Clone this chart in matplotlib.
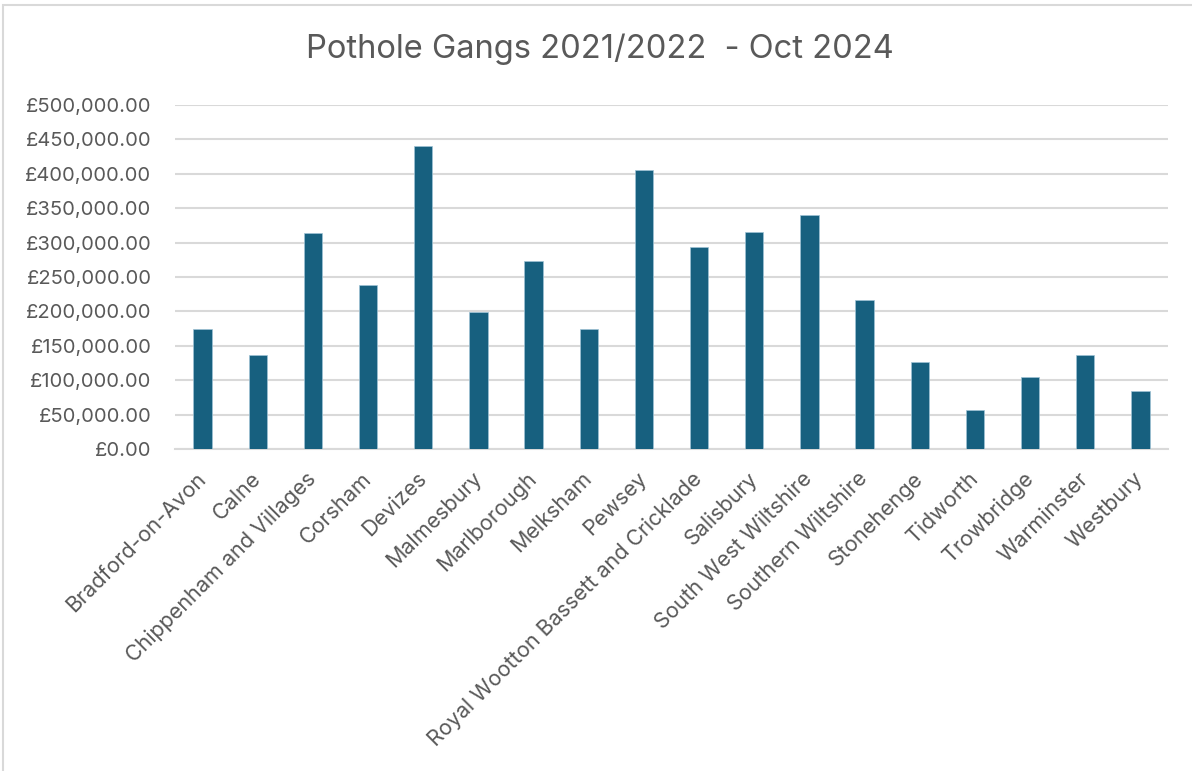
import matplotlib
matplotlib.use("Agg")
import matplotlib.pyplot as plt
from matplotlib.ticker import FuncFormatter, MultipleLocator
from matplotlib.patches import Rectangle

categories = ["Bradford-on-Avon", "Calne", "Chippenham and Villages", "Corsham",
              "Devizes", "Malmesbury", "Marlborough", "Melksham", "Pewsey",
              "Royal Wootton Bassett and Cricklade", "Salisbury",
              "South West Wiltshire", "Southern Wiltshire", "Stonehenge",
              "Tidworth", "Trowbridge", "Warminster", "Westbury"]
values = [175000, 137000, 314000, 238000, 440000, 199000, 273000, 175000, 405000,
          294000, 316000, 340000, 217000, 127000, 56000, 104000, 137000, 84000]
title = "Pothole Gangs 2021/2022  - Oct 2024"

plt.rcParams['font.family'] = ['Inter', 'DejaVu Sans']
txt = '#595959'
grid = '#D9D9D9'

fig = plt.figure(figsize=(11.92, 7.71), dpi=100)
fig.patches.append(Rectangle((3/1192, -0.1), 1.2, 1 - 5/771 + 0.1, transform=fig.transFigure,
                             fill=False, edgecolor='#D9D9D9', linewidth=1.5))
ax = fig.add_axes([175/1192, 1 - 449/771, (1168 - 175)/1192, (449 - 105)/771])

x = list(range(len(categories)))
ax.bar(x, values, width=0.33, color='#17607F', edgecolor='#9FC3D6', linewidth=0.5, zorder=3)
ax.set_xlim(-0.5, len(categories) - 0.5)
ax.set_ylim(0, 500000)
ax.yaxis.set_major_locator(MultipleLocator(50000))
ax.yaxis.set_major_formatter(FuncFormatter(lambda v, p: "£{:,.2f}".format(v)))
ax.grid(axis='y', color=grid, linewidth=1.5, zorder=0)
for s in ['top', 'right', 'left']:
    ax.spines[s].set_visible(False)
ax.spines['bottom'].set_color(grid)
ax.spines['bottom'].set_linewidth(1.5)
ax.tick_params(axis='both', length=0, colors=txt)
ax.tick_params(axis='y', pad=17, labelsize=14.5)
ax.set_xticks(x)
ax.set_xticklabels(categories, rotation=45, ha='right', va='center', rotation_mode='anchor')
ax.tick_params(axis='x', pad=19, labelsize=15.5)

fig.text(0.503, 1 - 49/771, title, ha='center', va='center', fontsize=23.5, color=txt)

fig.savefig("out.png", dpi=100)
